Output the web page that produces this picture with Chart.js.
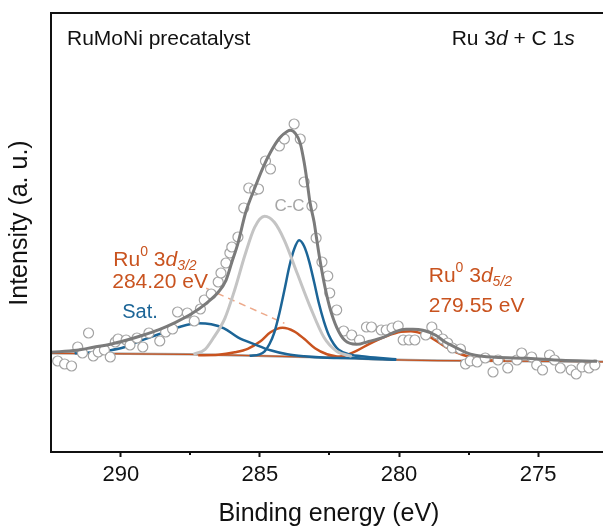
<!DOCTYPE html>
<html>
<head>
<meta charset="utf-8">
<title>RuMoNi precatalyst – Ru 3d + C 1s</title>
<script src="https://cdn.jsdelivr.net/npm/chart.js@4.4.1/dist/chart.umd.min.js"></script>
<style>
  html, body { margin: 0; padding: 0; background: #fff; overflow: hidden; }
  #wrap { width: 613px; height: 526px; }
</style>
</head>
<body>
<div id="wrap"><canvas id="xps" width="613" height="526"></canvas></div>
<script>
// Ru 3d + C 1s region, RuMoNi precatalyst

const BE_TICKS = [290, 285, 280, 275];
const BE_MINOR = [287.5, 282.5, 277.5];

// measured spectrum (open circles)
const scanBE = [292.27, 292.02, 291.77, 291.55, 291.38, 291.16, 290.99, 290.81, 290.59, 290.38,
  290.20, 290.10, 289.81, 289.67, 289.42, 289.21, 288.99, 288.60, 288.39, 288.14,
  287.96, 287.61, 287.36, 287.14, 287.00, 286.75, 286.50, 286.40, 286.22, 286.08,
  286.01, 285.79, 285.58, 285.40, 285.19, 285.05, 284.80, 284.62, 284.30, 284.12,
  283.77, 283.55, 283.41, 283.13, 282.98, 282.77, 282.56, 282.49, 282.24, 281.99,
  281.70, 281.42, 281.17, 280.99, 280.64, 280.46, 280.25, 280.03, 279.85, 279.64,
  279.43, 279.04, 278.82, 278.64, 278.43, 278.25, 278.08, 277.79, 277.61, 277.44,
  277.19, 276.90, 276.62, 276.44, 276.09, 275.76, 275.59, 275.23, 275.05, 274.84,
  274.59, 274.41, 274.20, 273.81, 273.63, 273.42, 273.17, 272.96];
const scanCounts = [91, 88, 86, 105, 99, 119, 96, 100, 102, 95,
  110, 113, 112, 107, 114, 105, 119, 111, 120, 123,
  140, 139, 131, 143, 152, 158, 170, 179, 189, 199,
  205, 215, 244, 264, 262, 263, 291, 283, 306, 313,
  328, 313, 270, 246, 214, 190, 176, 159, 142, 121,
  117, 112, 125, 125, 122, 122, 124, 126, 112, 112,
  112, 117, 125, 118, 113, 109, 104, 103, 88, 91,
  90, 94, 80, 92, 84, 92, 99, 95, 87, 82,
  97, 92, 84, 82, 78, 85, 84, 87];

// fitted envelope
const envBE = [292.51, 291.59, 290.99, 290.38, 289.81, 289.21, 288.60, 288.03, 287.43, 286.93,
  286.50, 286.22, 286.01, 285.79, 285.51, 285.19, 284.90, 284.62, 284.30, 284.01,
  283.91, 283.73, 283.55, 283.41, 283.30, 283.20, 283.05, 282.98, 282.84, 282.66,
  282.49, 282.24, 281.95, 281.53, 281.06, 280.57, 280.10, 279.75, 279.50, 279.14,
  278.68, 278.33, 277.97, 277.61, 277.26, 276.55, 275.38, 274.17, 272.88];
const envI = [99.7, 101.7, 104.7, 107.7, 111.7, 116.7, 122.7, 129.7, 138.7, 148.7,
  159.7, 171.7, 189.7, 208.7, 239.7, 263.7, 283.7, 299.7, 313.7, 320.7,
  321.7, 318.7, 308.7, 289.7, 269.7, 249.7, 229.7, 216.7, 191.7, 164.7,
  144.7, 124.7, 111.7, 107.7, 110.7, 114.7, 120.7, 122.7, 122.7, 121.7,
  116.7, 109.7, 104.7, 99.7, 96.7, 94.7, 93.7, 91.7, 90.7];

// C-C component
const ccBE = [287.39, 286.97, 286.68, 286.26, 285.90, 285.54, 285.19, 284.83, 284.48, 284.12,
  283.66, 283.20, 282.70, 282.24, 281.70];
const ccI = [97.7, 102.7, 113.7, 133.7, 162.7, 196.7, 224.7, 235.7, 229.7, 211.7,
  178.7, 145.7, 114.7, 100.7, 95.7];

// blue component at ~283.6 eV
const blueBE = [285.37, 285.01, 284.83, 284.66, 284.48, 284.30, 284.12, 283.94, 283.77, 283.59,
  283.41, 283.23, 283.05, 282.88, 282.70, 282.52, 282.34, 282.17, 281.81, 281.17, 280.10];
const blueI = [96.2, 97.7, 100.7, 107.7, 119.7, 138.7, 161.7, 185.7, 202.7, 211.7,
  205.7, 190.7, 169.7, 148.7, 130.7, 116.7, 107.7, 102.2, 97.7, 95.2, 92.7];

// satellite
const satBE = [291.66, 290.95, 290.38, 289.88, 289.35, 288.64, 287.93, 287.22, 286.75, 286.29,
  285.79, 285.19, 284.62, 284.01, 283.41, 282.59, 281.53, 280.10];
const satI = [98.7, 99.7, 101.7, 104.7, 110.7, 117.7, 124.7, 128.7, 127.7, 123.7,
  114.7, 107.7, 101.7, 97.7, 95.7, 94.2, 93.7, 92.2];

// Ru0 3d3/2
const ru32BE = [287.22, 286.50, 285.90, 285.44, 284.98, 284.62, 284.19, 283.77, 283.41, 283.02,
  282.59, 282.06];
const ru32I = [96.7, 97.2, 99.7, 103.2, 110.7, 119.7, 124.2, 120.7, 113.2, 103.7,
  97.7, 94.7];

// Ru0 3d5/2
const ru52BE = [282.59, 282.06, 281.53, 281.06, 280.46, 279.93, 279.57, 279.21, 278.86, 278.33,
  277.72, 277.01, 276.19];
const ru52I = [94.2, 95.7, 101.2, 108.2, 115.7, 120.2, 120.7, 118.7, 114.7, 105.2,
  97.2, 92.2, 91.2];

// background
const bgBE = [292.51, 287.57, 285.08, 282.24, 280.10, 277.61, 272.53];
const bgI = [98.7, 97.7, 96.2, 94.2, 92.2, 91.2, 90.2];

// leader from the 3d3/2 label to its peak
const leadBE = [286.93, 284.12];
const leadI = [163.7, 128.7];

const FONT = "'Liberation Sans', Arial, sans-serif";
const GREY = '#7b7b7b';
const LIGHT = '#c4c4c4';
const BLUE = '#1c6597';
const ORANGE = '#c9531f';
const INK = '#111111';

const zip = (xs, ys) => xs.map((x, i) => ({ x, y: ys[i] }));

function curve(label, xs, ys, color, width, order, extra) {
  return Object.assign({
    label,
    data: zip(xs, ys),
    borderColor: color,
    borderWidth: width,
    pointRadius: 0,
    fill: false,
    cubicInterpolationMode: 'monotone',
    order,
  }, extra || {});
}

// text with super/subscripts, parts drawn one after another
function drawRich(ctx, parts, x, y, color, align) {
  const fontFor = p => (p.it ? 'italic ' : '') + (p.sup || p.sub ? 14 : p.size || 21) + 'px ' + FONT;
  let w = 0;
  parts.forEach(p => { ctx.font = fontFor(p); w += ctx.measureText(p.t).width; });
  let cx = align === 'right' ? x - w : x;
  ctx.fillStyle = color;
  ctx.textAlign = 'left';
  ctx.textBaseline = 'middle';
  parts.forEach(p => {
    ctx.font = fontFor(p);
    const dy = p.sup ? -8 : p.sub ? 6 : 0;
    ctx.fillText(p.t, cx, y + dy);
    cx += ctx.measureText(p.t).width;
  });
}

const LABELS = [
  { be: 290.27, i: 192, color: ORANGE, parts: [{ t: 'Ru' }, { t: '0', sup: true }, { t: ' 3' }, { t: 'd', it: true }, { t: '3/2', sub: true, it: true }] },
  { be: 290.31, i: 170, color: ORANGE, parts: [{ t: '284.20 eV' }] },
  { be: 289.95, i: 140, color: BLUE, parts: [{ t: 'Sat.', size: 20 }] },
  { be: 284.48, i: 246, color: '#a6a6a6', parts: [{ t: 'C-C', size: 17 }] },
  { be: 278.93, i: 176, color: ORANGE, parts: [{ t: 'Ru' }, { t: '0', sup: true }, { t: ' 3' }, { t: 'd', it: true }, { t: '5/2', sub: true, it: true }] },
  { be: 278.93, i: 146, color: ORANGE, parts: [{ t: '279.55 eV' }] },
];

const frameAndText = {
  id: 'frameAndText',
  afterDraw(chart) {
    const { ctx, chartArea: a, scales: { x, y } } = chart;
    ctx.save();

    // box frame
    ctx.strokeStyle = INK;
    ctx.lineWidth = 2;
    ctx.strokeRect(a.left, a.top, a.right - a.left, a.bottom - a.top);

    // minor ticks
    BE_MINOR.forEach(v => {
      const px = Math.round(x.getPixelForValue(v));
      ctx.beginPath();
      ctx.moveTo(px, a.bottom);
      ctx.lineTo(px, a.bottom + 3);
      ctx.stroke();
    });

    // y axis title
    ctx.save();
    ctx.translate(20, a.top + 210);
    ctx.rotate(-Math.PI / 2);
    ctx.font = '25px ' + FONT;
    ctx.fillStyle = INK;
    ctx.textAlign = 'center';
    ctx.textBaseline = 'middle';
    ctx.fillText('Intensity (a. u.)', 0, 0);
    ctx.restore();

    // panel titles
    drawRich(ctx, [{ t: 'RuMoNi precatalyst' }], a.left + 16, a.top + 26, INK);
    drawRich(ctx, [{ t: 'Ru 3' }, { t: 'd', it: true }, { t: ' + C 1' }, { t: 's', it: true }],
      a.right - 32, a.top + 26, INK, 'right');

    // peak labels
    LABELS.forEach(l => {
      drawRich(ctx, l.parts, x.getPixelForValue(l.be), y.getPixelForValue(l.i), l.color);
    });
    ctx.restore();
  },
};

new Chart(document.getElementById('xps'), {
  type: 'line',
  data: {
    datasets: [
      curve('Envelope', envBE, envI, GREY, 3, 0),
      {
        label: 'Raw',
        data: zip(scanBE, scanCounts),
        showLine: false,
        pointRadius: 5,
        pointBorderWidth: 1.2,
        pointBorderColor: '#a3a3a3',
        pointBackgroundColor: '#ffffff',
        order: 1,
      },
      curve('C-C', ccBE, ccI, LIGHT, 3, 2),
      curve('Peak 283.6', blueBE, blueI, BLUE, 2.5, 3),
      curve('Sat.', satBE, satI, BLUE, 2.5, 4),
      curve('Ru0 3d3/2', ru32BE, ru32I, ORANGE, 2.5, 5),
      curve('Ru0 3d5/2', ru52BE, ru52I, ORANGE, 2.5, 6),
      curve('Background', bgBE, bgI, ORANGE, 1.2, 7),
      curve('Background (grey)', bgBE, bgI, '#a8a8a8', 2.5, 8),
      curve('Leader', leadBE, leadI, '#eda98a', 1.5, 9, { borderDash: [7, 5], cubicInterpolationMode: 'default', tension: 0 }),
    ],
  },
  options: {
    responsive: false,
    animation: false,
    events: [],
    layout: { padding: { top: 13, left: 0, right: 0, bottom: 0 } },
    plugins: { legend: { display: false }, tooltip: { enabled: false } },
    scales: {
      x: {
        type: 'linear',
        reverse: true,
        min: 272.53,
        max: 292.51,
        afterFit: s => { s.height = 74; },
        afterBuildTicks: s => { s.ticks = BE_TICKS.map(v => ({ value: v })); },
        grid: { drawOnChartArea: false, drawTicks: true, tickLength: 5, tickColor: INK, tickWidth: 2 },
        border: { display: true, color: INK, width: 2 },
        ticks: { color: INK, font: { family: FONT, size: 22 }, padding: 5, maxRotation: 0 },
        title: {
          display: true, text: 'Binding energy (eV)', color: INK,
          font: { family: FONT, size: 25, lineHeight: 1 }, padding: { top: 0, bottom: -1 },
        },
      },
      y: {
        type: 'linear',
        min: 0,
        max: 439,
        afterFit: s => { s.width = 51; },
        grid: { display: false },
        border: { display: true, color: INK, width: 2 },
        ticks: { display: false },
      },
    },
  },
  plugins: [frameAndText],
});
</script>
</body>
</html>
